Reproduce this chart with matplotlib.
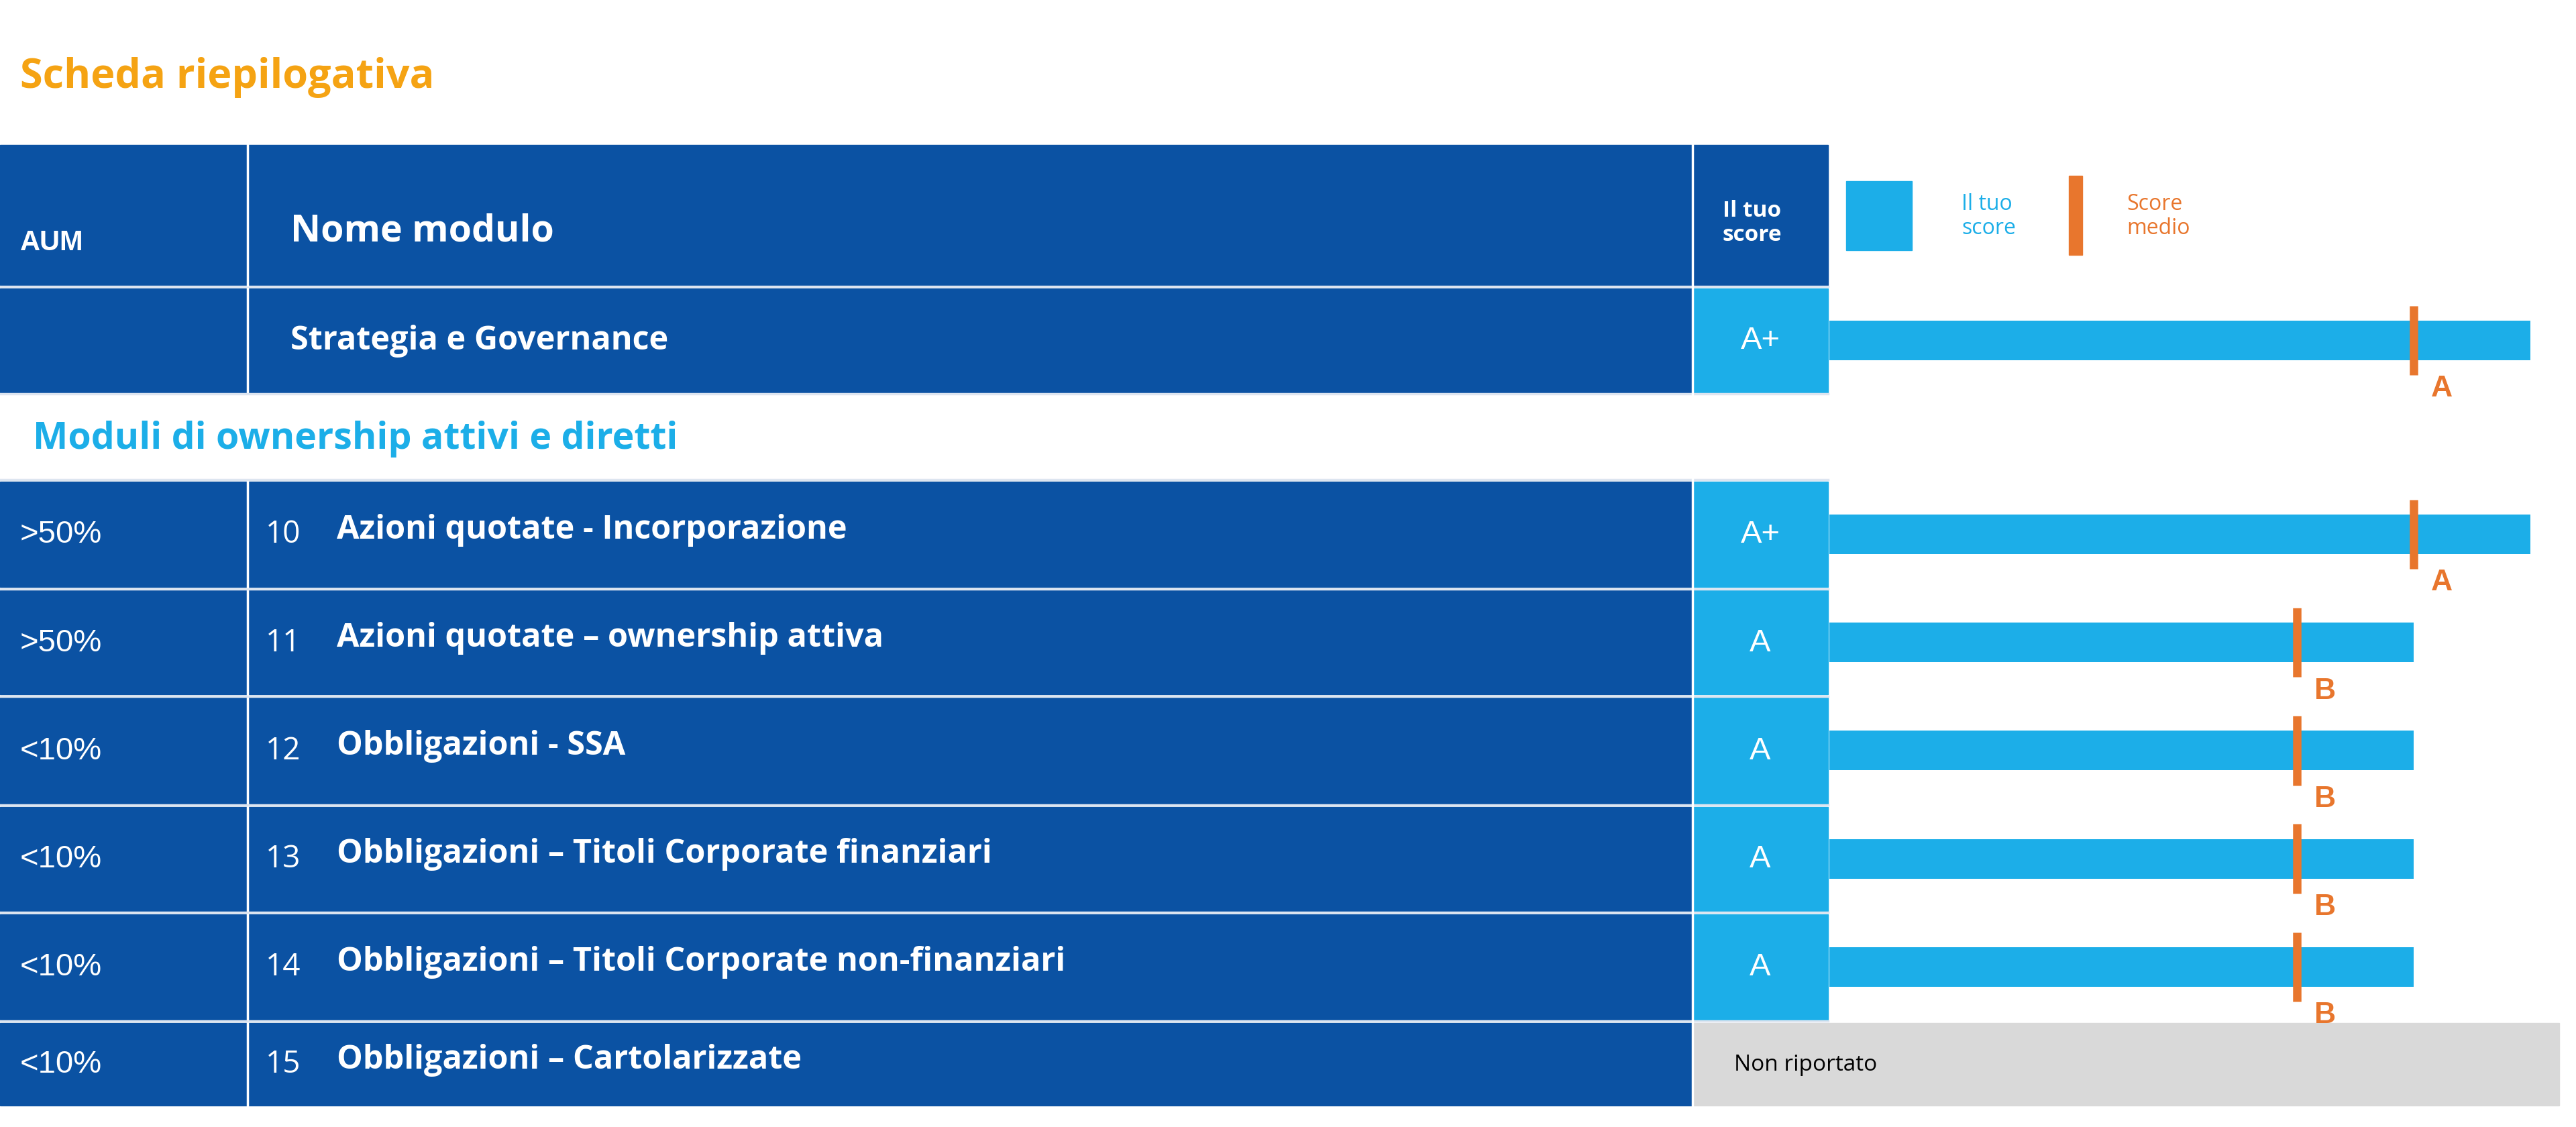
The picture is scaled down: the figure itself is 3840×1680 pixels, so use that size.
import matplotlib.pyplot as plt
from matplotlib.patches import Rectangle

# data
aum = ["", ">50%", ">50%", "<10%", "<10%", "<10%", "<10%"]
numbers = ["", "10", "11", "12", "13", "14", "15"]
modules = ["Strategia e Governance",
           "Azioni quotate - Incorporazione",
           "Azioni quotate \u2013 ownership attiva",
           "Obbligazioni - SSA",
           "Obbligazioni \u2013 Titoli Corporate finanziari",
           "Obbligazioni \u2013 Titoli Corporate non-finanziari",
           "Obbligazioni \u2013 Cartolarizzate"]
your_score = ["A+", "A+", "A", "A", "A", "A", None]
avg_score = ["A", "A", "B", "B", "B", "B", None]
grade_value = {"A+": 6, "A": 5, "B": 4}

DARK = "#0B52A3"
LIGHT = "#1CAEE8"
ORANGE = "#E8762D"
TITLE = "#F5A313"
FONT = "Open Sans"

W, H = 1560, 683
fig = plt.figure(figsize=(38.4, 16.81), dpi=100)
ax = fig.add_axes([0, 0, 1, 1])
ax.set_xlim(0, W)
ax.set_ylim(H, 0)
ax.axis("off")

ax.text(12, 47, "Scheda riepilogativa", color=TITLE, fontsize=44, fontweight="bold",
        family=FONT, va="center")

# header
ax.add_patch(Rectangle((0, 88), 1107, 85, color=DARK))
ax.text(12, 147, "AUM", color="white", fontsize=30, fontweight="bold", family="Liberation Sans", va="center")
ax.text(176, 140, "Nome modulo", color="white", fontsize=40, fontweight="bold", family=FONT, va="center")
ax.text(1061, 135, "Il tuo\nscore", color="white", fontsize=24, fontweight="bold", family=FONT,
        va="center", ha="center", linespacing=1.1)
ax.add_patch(Rectangle((1118, 110), 40, 42, color=LIGHT))
ax.text(1188, 131, "Il tuo\nscore", color=LIGHT, fontsize=23, family=FONT, va="center", linespacing=1.1)
ax.add_patch(Rectangle((1253, 107), 8, 48, color=ORANGE))
ax.text(1288, 131, "Score\nmedio", color=ORANGE, fontsize=23, family=FONT, va="center", linespacing=1.1)

row_top = [175, 292, 358, 423, 489, 554, 620]
row_bot = [238, 356, 421, 487, 552, 618, 670]

# section row
ax.text(20, 266, "Moduli di ownership attivi e diretti", color=LIGHT, fontsize=40,
        fontweight="bold", family=FONT, va="center")

# bar axes: x in grade units
bx = fig.add_axes([1108 / W, 0, (1550 - 1108) / W, 1])
bx.set_xlim(0, (1550 - 1108) / 70.7)
bx.set_ylim(H, 0)
bx.axis("off")

for i in range(len(modules)):
    t, b = row_top[i], row_bot[i]
    ym = (t + b) / 2
    ax.add_patch(Rectangle((0, t), 1025, b - t, color=DARK))
    ax.plot([150, 150], [t, b], color="white", lw=2.5)
    ax.text(12, ym, aum[i], color="white", fontsize=34, family="Liberation Sans", va="center")
    if numbers[i]:
        ax.text(161, ym, numbers[i], color="white", fontsize=33, family=FONT, va="center")
        ax.text(204, ym - 3, modules[i], color="white", fontsize=35, fontweight="bold", family=FONT, va="center")
    else:
        ax.text(176, ym, modules[i], color="white", fontsize=35, fontweight="bold", family=FONT, va="center")
    if your_score[i] is None:
        ax.add_patch(Rectangle((1025, t), 525, b - t, color="#D9D9D9"))
        ax.text(1050, ym, "Non riportato", color="black", fontsize=24, family=FONT, va="center")
        continue
    ax.add_patch(Rectangle((1025, t), 82, b - t, color=LIGHT))
    ax.text(1066, ym, your_score[i], color="white", fontsize=34, family="Liberation Sans",
            va="center", ha="center")
    v = grade_value[your_score[i]]
    a = grade_value[avg_score[i]]
    bx.barh(ym, v, height=24, left=0, color=LIGHT)
    bx.plot([a, a], [ym - 21, ym + 21], color=ORANGE, lw=9, solid_capstyle="butt")
    bx.text(a + 0.15, ym + 29, avg_score[i], color=ORANGE, fontsize=32, fontweight="bold",
            family="Liberation Sans", va="center")

# row separators
for y in [174, 239, 291, 357, 422, 488, 553, 619]:
    ax.plot([0, 1107], [y, y], color="#DDE5F0", lw=2.5)
ax.plot([1025, 1025], [88, 670], color="white", lw=2.5)
ax.plot([150, 150], [88, 173], color="white", lw=2.5)

fig.savefig("out.png", dpi=100)
